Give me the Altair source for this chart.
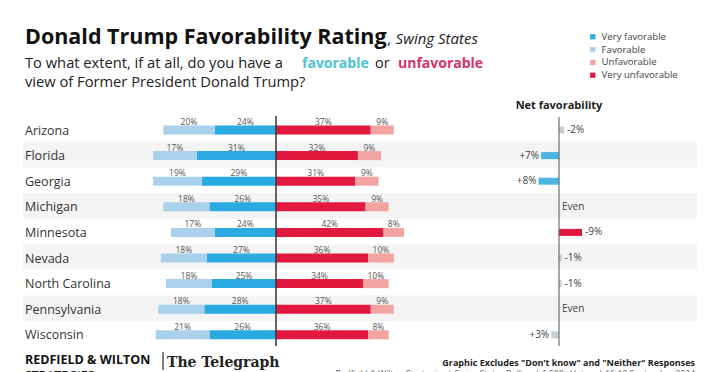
import altair as alt
import pandas as pd

states = ["Arizona", "Florida", "Georgia", "Michigan", "Minnesota", "Nevada",
          "North Carolina", "Pennsylvania", "Wisconsin"]
favorable = [20, 17, 19, 18, 17, 18, 18, 18, 21]
very_favorable = [24, 31, 29, 26, 24, 27, 25, 28, 26]
very_unfavorable = [37, 32, 31, 35, 42, 36, 34, 37, 36]
unfavorable = [9, 9, 9, 9, 8, 10, 10, 9, 8]
net = [-2, 7, 8, 0, -9, -1, -1, 0, 3]

segments = ["Very favorable", "Favorable", "Unfavorable", "Very unfavorable"]
seg_colors = ["#2AAAE1", "#AAD1EC", "#F4A3A3", "#E2193F"]

FONT = "Open Sans"
W, H = 704, 364

rows = []
for i, s in enumerate(states):
    vf, f, vu, u = very_favorable[i], favorable[i], very_unfavorable[i], unfavorable[i]
    rows.append(dict(state=s, seg="Very favorable", x=-vf, x2=0, v=vf))
    rows.append(dict(state=s, seg="Favorable", x=-(vf + f), x2=-vf, v=f))
    rows.append(dict(state=s, seg="Very unfavorable", x=0, x2=vu, v=vu))
    rows.append(dict(state=s, seg="Unfavorable", x=vu, x2=vu + u, v=u))
bars_df = pd.DataFrame(rows)
bars_df["mid"] = (bars_df["x"] + bars_df["x2"]) / 2
bars_df["lab"] = bars_df["v"].astype(str) + "%"

net_df = pd.DataFrame({"state": states, "net": net})
net_df["plot"] = -net_df["net"]
net_df["lab"] = net_df["net"].map(lambda n: "Even" if n == 0 else (f"+{n}%" if n > 0 else f"{n}%"))
band_df = pd.DataFrame({"state": [s for i, s in enumerate(states) if i % 2 == 1]})
state_df = pd.DataFrame({"state": states})

PX = 2.56
C_MAIN = 268
C_NET = 551
xs_main = alt.Scale(domain=[-C_MAIN / PX, (W - C_MAIN) / PX], nice=False, zero=False)
xs_net = alt.Scale(domain=[-C_NET / PX, (W - C_NET) / PX], nice=False, zero=False)
ys = alt.Scale(domain=states, range=[108.2, 108.2 + 9 * 25.6], paddingInner=0, paddingOuter=0)
Y = alt.Y("state:N", sort=states, scale=ys, axis=None)

bands = alt.Chart(band_df).mark_rect(color="#F4F4F4").encode(
    y=Y, x=alt.value(15), x2=alt.value(689))

bars = alt.Chart(bars_df).mark_bar(height=9, yOffset=1).encode(
    y=Y,
    x=alt.X("x:Q", scale=xs_main, axis=None),
    x2="x2:Q",
    color=alt.Color("seg:N", scale=alt.Scale(domain=segments, range=seg_colors),
                    legend=alt.Legend(orient="none", legendX=580, legendY=24, title=None,
                                      symbolType="square", symbolSize=28, symbolStrokeWidth=0,
                                      labelFontSize=9.6, labelFont=FONT, labelColor="#444",
                                      rowPadding=1.8, padding=0)),
)

pct = alt.Chart(bars_df).mark_text(fontSize=8.5, font=FONT, color="#555", baseline="alphabetic",
                                   dy=-4).encode(
    y=Y, x=alt.X("mid:Q", scale=xs_main), text="lab:N")

slabels = alt.Chart(state_df).mark_text(fontSize=12.5, font=FONT, color="#333", align="left",
                                        baseline="middle", dy=1.5).encode(
    y=Y, x=alt.value(17), text="state:N")

center = alt.Chart(state_df.head(1)).mark_rule(color="#333", strokeWidth=1.5).encode(
    x=alt.X(datum=0, type="quantitative", scale=xs_main), y=alt.value(108), y2=alt.value(338))

main = alt.layer(bands, bars, pct, slabels, center)

ncolor = alt.Color("net:Q", scale=alt.Scale(type="threshold", domain=[-4.5, 4.5],
                                            range=["#E2193F", "#C9CDD2", "#4CB6E3"]), legend=None)
net_bars = alt.Chart(net_df).mark_bar(height=7, yOffset=1).encode(
    y=Y, x=alt.X("plot:Q", scale=xs_net, axis=None), x2=alt.X2(datum=0), color=ncolor)
net_pos = alt.Chart(net_df).transform_filter("datum.net > 0").mark_text(
    fontSize=10, font=FONT, color="#444", align="right", baseline="middle", dx=-2, dy=1).encode(
    y=Y, x=alt.X("plot:Q", scale=xs_net), text="lab:N")
net_neg = alt.Chart(net_df).transform_filter("datum.net <= 0").mark_text(
    fontSize=10, font=FONT, color="#444", align="left", baseline="middle", dx=3, dy=1).encode(
    y=Y, x=alt.X("plot:Q", scale=xs_net), text="lab:N")
net_rule = alt.Chart(state_df.head(1)).mark_rule(color="#555", strokeWidth=1).encode(
    x=alt.X(datum=0, type="quantitative", scale=xs_net), y=alt.value(109), y2=alt.value(338))
net_title = alt.Chart(pd.DataFrame({"t": ["Net favorability"]})).mark_text(
    fontSize=11, font=FONT, fontWeight="bold", color="#222", baseline="middle").encode(
    x=alt.X(datum=0, type="quantitative", scale=xs_net), y=alt.value(98), text="t:N")

netl = alt.layer(net_bars, net_pos, net_neg, net_rule, net_title)


def txt(t, x, y, size, color="#222", weight="normal", style="normal", align="left", font=FONT):
    return alt.Chart(pd.DataFrame({"t": [t]})).mark_text(
        fontSize=size, font=font, fontWeight=weight, fontStyle=style, color=color,
        align=align, baseline="alphabetic").encode(x=alt.value(x), y=alt.value(y), text="t:N")


ann = [
    txt("Donald Trump Favorability Rating", 17, 36, 21.5, "#111", "bold"),
    txt(", Swing States", 380, 36, 15, "#222", style="italic"),
    txt("To what extent, if at all, do you have a", 17, 59.5, 14.7, "#222"),
    txt("favorable", 294, 59.5, 14, "#4CC4D6", "bold"),
    txt("or", 367, 59.5, 14.5, "#222"),
    txt("unfavorable", 390, 59.5, 14, "#D6336C", "bold"),
    txt("view of Former President Donald Trump?", 17, 78.5, 14.7, "#222"),
    txt("REDFIELD & WILTON", 17, 356, 12.5, "#111", "bold"),
    txt("STRATEGIES", 17, 372, 12.5, "#111"),
    txt("|", 150, 358, 18, "#333"),
    txt("The Telegraph", 159, 359, 14, "#222", "bold", font="DejaVu Serif"),
    txt('Graphic Excludes "Don\u2019t know" and "Neither" Responses', 687, 358, 9, "#222", "bold",
        align="right"),
    txt("Redfield & Wilton Strategies | Swing States Polling | 1,500+ Voters | 16-18 September 2024",
        687, 369, 8.5, "#666", align="right"),
]

chart = alt.layer(main, netl, *ann).resolve_scale(x="independent", color="independent").properties(
    width=W, height=H, autosize="none", padding=0, background="white"
).configure_view(stroke=None)

chart.save("out.html", embed_options={"renderer": "svg", "actions": False})
